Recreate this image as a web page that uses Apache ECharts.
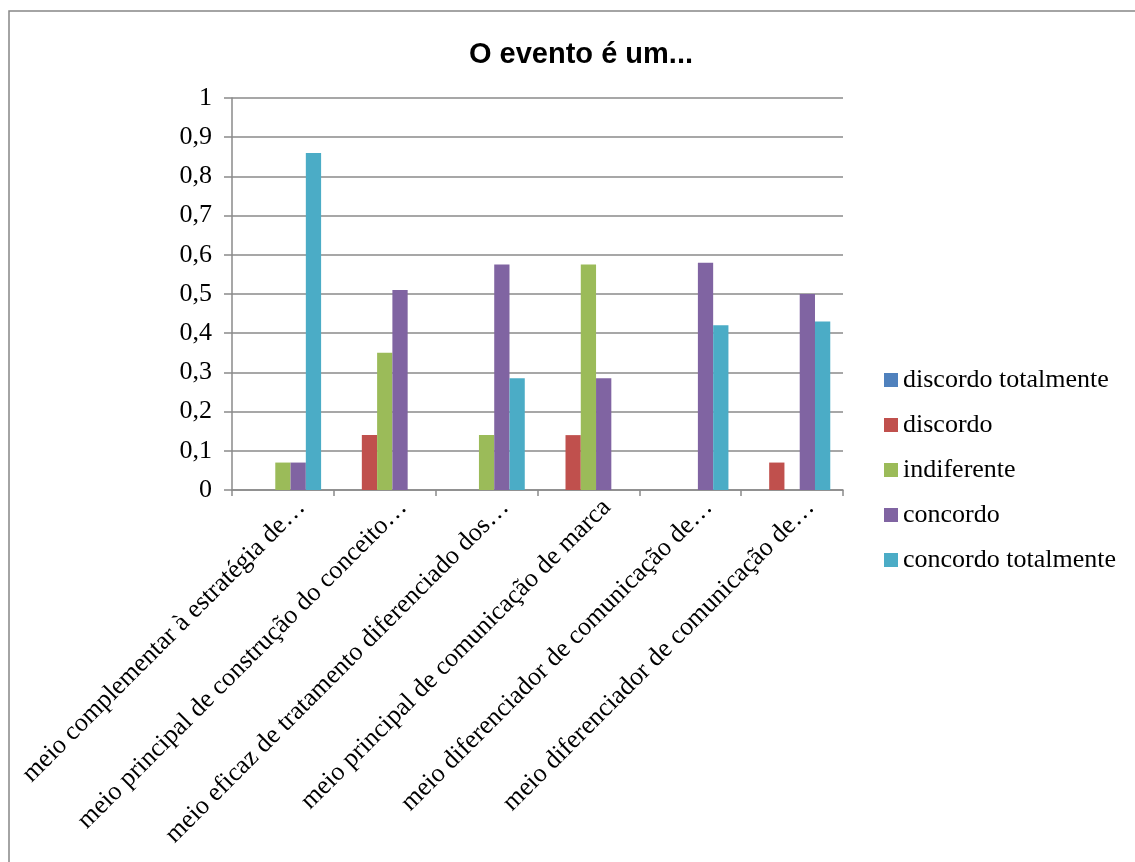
<!DOCTYPE html>
<html>
<head>
<meta charset="utf-8">
<script src="https://cdn.jsdelivr.net/npm/echarts@6/dist/echarts.min.js"></script>
<style>
  html, body { margin: 0; padding: 0; background: #fff; }
  #chart { width: 1135px; height: 862px; }
</style>
</head>
<body>
<div id="chart"></div>
<script>
// categories (labels truncated as in the source chart)
var categories = [
    'meio complementar à estratégia de…',
    'meio principal de construção do conceito…',
    'meio eficaz de tratamento diferenciado dos…',
    'meio principal de comunicação de marca',
    'meio diferenciador de comunicação de…',
    'meio diferenciador de comunicação de…'
];
var seriesNames = ['discordo totalmente', 'discordo', 'indiferente', 'concordo', 'concordo totalmente'];
var seriesColors = ['#4F81BD', '#C0504D', '#9BBB59', '#8064A2', '#4BACC6'];

var discordoTotalmente = [0, 0, 0, 0, 0, 0];
var discordo = [0, 0.14, 0, 0.14, 0, 0.07];
var indiferente = [0.07, 0.35, 0.14, 0.575, 0, 0];
var concordo = [0.07, 0.51, 0.575, 0.285, 0.58, 0.5];
var concordoTotalmente = [0.86, 0, 0.285, 0, 0.42, 0.43];

var seriesData = [discordoTotalmente, discordo, indiferente, concordo, concordoTotalmente];

var serif = '"Liberation Serif", "Times New Roman", serif';
var gridColor = '#8a8a8a';

var chart = echarts.init(document.getElementById('chart'));

var series = seriesNames.map(function (name, i) {
    return {
        name: name,
        type: 'bar',
        data: seriesData[i],
        barGap: '0%',
        barCategoryGap: '25%',
        itemStyle: { color: seriesColors[i] }
    };
});

chart.setOption({
    animation: false,
    backgroundColor: '#fff',
    graphic: [{
        type: 'rect',
        shape: { x: 9, y: 11, width: 1140, height: 870 },
        style: { fill: 'none', stroke: '#868686', lineWidth: 1.5 },
        silent: true
    }],
    title: {
        text: 'O evento é um...',
        left: 576,
        top: 35,
        textAlign: 'center',
        textStyle: {
            fontFamily: '"Liberation Sans", Arial, sans-serif',
            fontWeight: 'bold',
            fontSize: 29,
            color: '#000'
        }
    },
    legend: {
        orient: 'vertical',
        left: 884,
        top: 367,
        padding: 0,
        icon: 'rect',
        itemWidth: 14,
        itemHeight: 14,
        itemGap: 19,
        data: seriesNames,
        textStyle: { fontFamily: serif, fontSize: 26, lineHeight: 26, color: '#000' }
    },
    grid: {
        left: 232,
        right: 292,
        top: 98,
        bottom: 372,
        containLabel: false
    },
    xAxis: {
        type: 'category',
        data: categories,
        axisLine: { lineStyle: { color: gridColor, width: 1.5 } },
        axisTick: { show: true, length: 6, lineStyle: { color: gridColor, width: 1.5 } },
        axisLabel: {
            interval: 0,
            rotate: 45,
            fontFamily: serif,
            fontSize: 26,
            color: '#000',
            margin: 32,
            padding: [0, -26, 0, 0]
        }
    },
    yAxis: {
        type: 'value',
        min: 0,
        max: 1,
        interval: 0.1,
        axisLine: { show: true, lineStyle: { color: gridColor, width: 1.5 } },
        axisTick: { show: true, length: 8, lineStyle: { color: gridColor, width: 1.5 } },
        splitLine: { lineStyle: { color: gridColor, width: 1.5 } },
        axisLabel: {
            fontFamily: serif,
            fontSize: 26,
            color: '#000',
            margin: 20,
            formatter: function (v) {
                if (v === 0 || v === 1) return String(v);
                return v.toFixed(1).replace('.', ',');
            }
        }
    },
    series: series
});
</script>
</body>
</html>
